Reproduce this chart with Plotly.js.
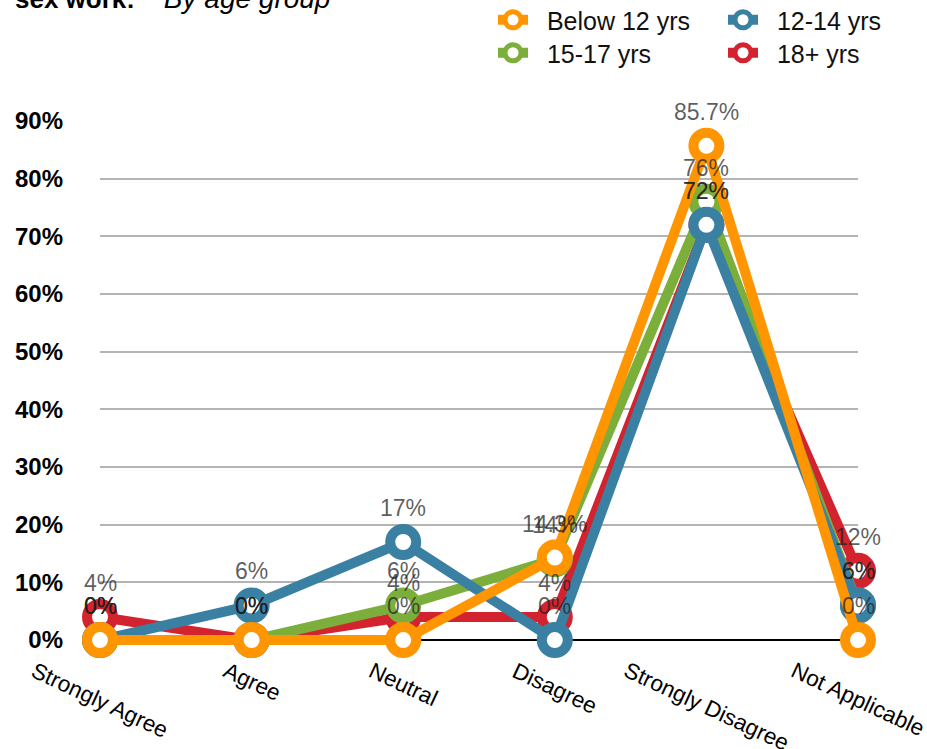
<!DOCTYPE html>
<html><head><meta charset="utf-8">
<script src="https://cdn.plot.ly/plotly-3.0.1.min.js"></script>
<style>html,body{margin:0;padding:0;background:#fff}#chart{width:927px;height:749px}</style>
</head><body><div id="chart"></div>
<script>
const categories = ['Strongly Agree', 'Agree', 'Neutral', 'Disagree', 'Strongly Disagree', 'Not Applicable'];
const below12 = [0, 0, 0, 14.3, 85.7, 0];
const age12to14 = [0, 6, 17, 0, 72, 6];
const age15to17 = [0, 0, 6, 14, 76, 6];
const age18plus = [4, 0, 4, 4, 72, 12];
const seriesNames = ['Below 12 yrs', '12-14 yrs', '15-17 yrs', '18+ yrs'];
const yTickVals = [0, 10, 20, 30, 40, 50, 60, 70, 80, 90];
const yTickText = yTickVals.map(v => v + '%');
const titleBold = 'sex work:';
const titleItalic = 'By age group';

const W = 927, H = 749, M = {l: 100, r: 69, t: 121, b: 102, autoexpand: false};
const plotW = W - M.l - M.r, plotH = H - M.t - M.b;
const px2x = px => (px - M.l) / plotW;
const px2y = py => (H - M.b - py) / plotH;
const FONT = 'Liberation Sans, Arial, sans-serif';

const colors = {orange: '#FF9500', blue: '#3A80A3', green: '#7BAE3B', red: '#D2232E'};
const fmt = v => (Math.round(v) === v ? String(v) : v.toFixed(1)) + '%';

function mk(name, vals, color, legend) {
  return {
    type: 'scatter', mode: 'lines+markers', name: '\u00a0\u00a0' + name,
    x: categories, y: vals,
    line: {color: color, width: 10},
    marker: {symbol: 'circle', size: 26, color: '#ffffff', line: {color: color, width: 10}},
    cliponaxis: false, hoverinfo: 'skip',
    legend: legend
  };
}

// drawing order: red at the bottom, orange on top
const series = [
  [seriesNames[3], age18plus, colors.red, 'legend4'],
  [seriesNames[2], age15to17, colors.green, 'legend3'],
  [seriesNames[1], age12to14, colors.blue, 'legend2'],
  [seriesNames[0], below12, colors.orange, 'legend']
];
const data = series.map(s => mk.apply(null, s));

const annotations = [];
series.forEach(s => {
  s[1].forEach((v, i) => {
    annotations.push({
      x: categories[i], xref: 'x', y: v, yref: 'y',
      xanchor: 'center', yanchor: 'middle', yshift: 34, showarrow: false,
      text: fmt(v), font: {family: FONT, size: 23, color: 'rgba(30,30,30,0.72)'}
    });
  });
});
categories.forEach(c => annotations.push({
  x: c, xref: 'x', y: px2y(655), yref: 'paper',
  xanchor: 'center', yanchor: 'top', textangle: 25, showarrow: false,
  text: c, font: {family: FONT, size: 22.5, color: '#000'}
}));
annotations.push({
  x: px2x(13), xref: 'paper', y: px2y(-1), yref: 'paper',
  xanchor: 'left', yanchor: 'middle', showarrow: false,
  text: '<b>' + titleBold + '</b>\u00a0\u00a0\u00a0\u00a0<i><span style="font-size:28px">' + titleItalic + '</span></i>',
  font: {family: FONT, size: 26, color: '#000'}
});

const legendCommon = {
  orientation: 'v', yanchor: 'top', xanchor: 'left',
  font: {family: FONT, size: 25, color: '#111'},
  bgcolor: 'rgba(0,0,0,0)', tracegroupgap: 0,
  itemclick: false, itemdoubleclick: false
};
const lg = (xp, yp) => Object.assign({}, legendCommon, {x: px2x(xp), y: px2y(yp)});

const layout = {
  width: W, height: H,
  margin: M,
  paper_bgcolor: '#fff', plot_bgcolor: '#fff',
  showlegend: true,
  legend: lg(493, -3),
  legend2: lg(723, -3),
  legend3: lg(493, 30),
  legend4: lg(723, 30),
  xaxis: {
    type: 'category', categoryorder: 'array', categoryarray: categories,
    range: [0, 5], showticklabels: false, showgrid: false, zeroline: false,
    showline: false, ticks: '', fixedrange: true
  },
  yaxis: {
    range: [-1.2, 90], tickvals: yTickVals, ticktext: yTickText,
    tickfont: {family: FONT, size: 24, color: '#000', weight: 'bold'},
    ticks: '', ticklabelstandoff: 36,
    showgrid: true, gridcolor: '#b4b4b4', gridwidth: 2,
    zeroline: true, zerolinecolor: '#000', zerolinewidth: 2,
    showline: false, fixedrange: true
  },
  annotations: annotations
};

Plotly.newPlot('chart', data, layout, {displayModeBar: false, staticPlot: true});
</script>
</body></html>
